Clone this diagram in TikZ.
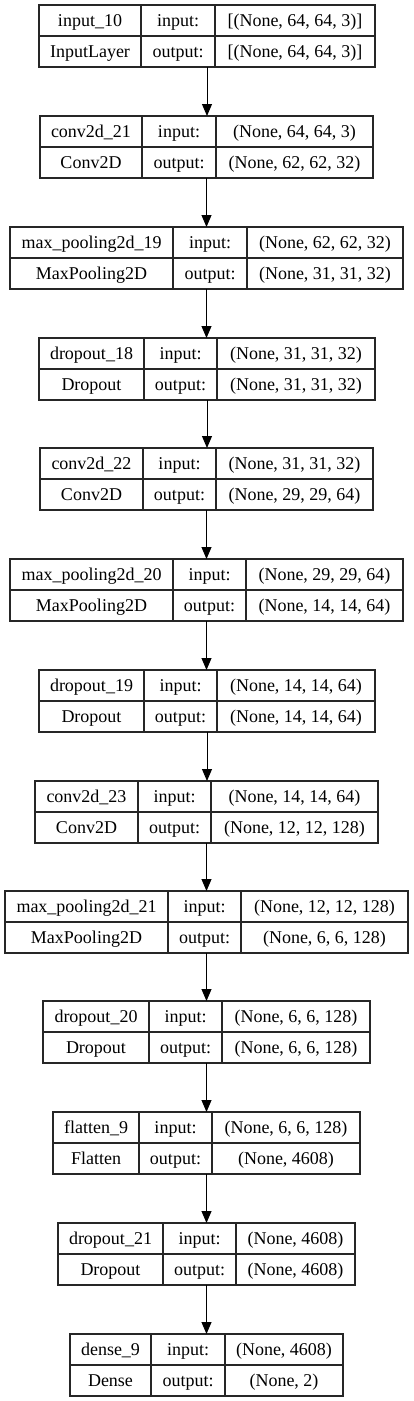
\documentclass[tikz,border=0pt]{standalone}
\usepackage{fontspec}
\setmainfont{Liberation Serif}
\usetikzlibrary{arrows.meta}
\begin{document}
\begin{tikzpicture}[x=1pt,y=-1pt,
  boxline/.style={draw=black!85,line width=1.1pt},
  layerbox/.style={boxline,inner sep=0pt,outer sep=0pt,anchor=north west,minimum height=62pt},
  txt/.style={inner sep=0pt,text height=11.9pt,text depth=0pt,font=\fontsize{18}{20}\selectfont},
  arr/.style={draw=black,line width=1pt,-{Triangle[width=10pt,length=12pt]}}]
\useasboundingbox[fill=white] (0,0) rectangle (413,1401);
\foreach \n/\y/\a/\b/\c/\d/\t/\k/\i/\o in {
 1/5/39/141/215/375/{input\_10}/{InputLayer}/{[(None, 64, 64, 3)]}/{[(None, 64, 64, 3)]},
 2/116/40/142/216/373/{conv2d\_21}/{Conv2D}/{(None, 64, 64, 3)}/{(None, 62, 62, 32)},
 3/227/10/173/247/403/{max\_pooling2d\_19}/{MaxPooling2D}/{(None, 62, 62, 32)}/{(None, 31, 31, 32)},
 4/338/39/144/217/375/{dropout\_18}/{Dropout}/{(None, 31, 31, 32)}/{(None, 31, 31, 32)},
 5/448/40/143/216/373/{conv2d\_22}/{Conv2D}/{(None, 31, 31, 32)}/{(None, 29, 29, 64)},
 6/559/10/173/246/403/{max\_pooling2d\_20}/{MaxPooling2D}/{(None, 29, 29, 64)}/{(None, 14, 14, 64)},
 7/670/39/144/217/375/{dropout\_19}/{Dropout}/{(None, 14, 14, 64)}/{(None, 14, 14, 64)},
 8/781/35/138/211/378/{conv2d\_23}/{Conv2D}/{(None, 14, 14, 64)}/{(None, 12, 12, 128)},
 9/891/5/168/241/408/{max\_pooling2d\_21}/{MaxPooling2D}/{(None, 12, 12, 128)}/{(None, 6, 6, 128)},
 10/1001/43/149/222/370/{dropout\_20}/{Dropout}/{(None, 6, 6, 128)}/{(None, 6, 6, 128)},
 11/1112/53/139/212/360/{flatten\_9}/{Flatten}/{(None, 6, 6, 128)}/{(None, 4608)},
 12/1223/58/163/236/355/{dropout\_21}/{Dropout}/{(None, 4608)}/{(None, 4608)},
 13/1334/70/151/225/343/{dense\_9}/{Dense}/{(None, 4608)}/{(None, 2)}}{
  \node[layerbox,minimum width={(\d-\a)*1pt}] (L\n) at (\a,\y) {};
  \draw[boxline] (\b,\y) -- (\b,\y+62) (\c,\y) -- (\c,\y+62) (\a,\y+31) -- (\d,\y+31);
  \node[txt] (T\n) at ({(\a+\b)/2},\y+15.5) {\t};
  \node[txt] (K\n) at ({(\a+\b)/2},\y+46.5) {\k};
  \node[txt] (I\n) at ({(\b+\c)/2},\y+15.5) {input:};
  \node[txt] (O\n) at ({(\b+\c)/2},\y+46.5) {output:};
  \node[txt] (IV\n) at ({(\c+\d)/2},\y+15.5) {\i};
  \node[txt] (OV\n) at ({(\c+\d)/2},\y+46.5) {\o};
}
\foreach \p [evaluate=\p as \q using int(\p+1)] in {1,...,12}{
  \draw[arr] (L\p.south) -- (L\p.south |- L\q.north);
}
\end{tikzpicture}
\end{document}
